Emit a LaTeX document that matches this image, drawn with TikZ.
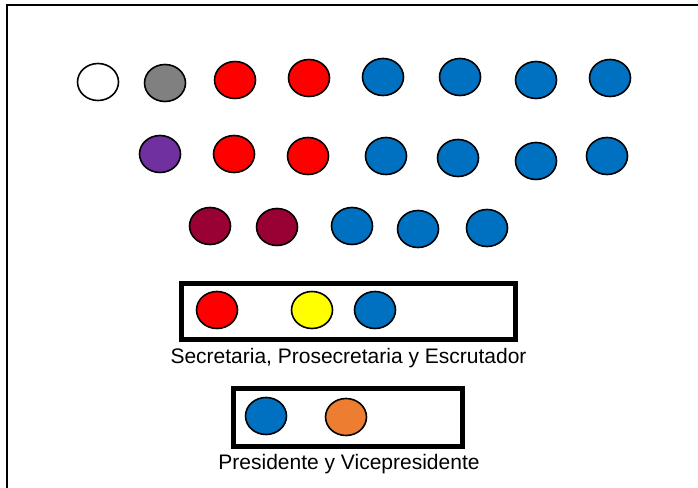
\documentclass[tikz,border=0pt]{standalone}
\usepackage{fontspec}
\setmainfont{Liberation Sans}
\usepackage{tikz}
\usetikzlibrary{
    shapes,
    shapes.geometric,
    positioning
}
\definecolor{seatblue}{HTML}{0070C0}
\definecolor{seatred}{HTML}{FF0000}
\definecolor{seatgray}{HTML}{808080}
\definecolor{seatpurple}{HTML}{7030A0}
\definecolor{seatmaroon}{HTML}{990033}
\definecolor{seatorange}{HTML}{ED7D31}
\definecolor{seatyellow}{HTML}{FFFF00}
\tikzset{
  seat/.style = {
      draw=black,
      ellipse,
      line width=1.6pt,
      minimum width=41pt,
      minimum height=37pt,
      inner sep=0pt
  },
  blue seat/.style = {
      seat,
      fill=seatblue
  },
  red seat/.style = {
      seat,
      fill=seatred
  },
  panel/.style = {
      draw=black,
      line width=5pt,
      inner sep=0pt
  },
  caption/.style = {
      font=\fontsize{21}{25}\selectfont,
      anchor=base,
      inner sep=0pt
  }
}

\begin{document}
\begin{tikzpicture}[x=1pt, y=-1pt]
    \useasboundingbox (0,0) rectangle (698,487);
    % Frame
    \draw[line width=2pt] (7,495) -- (7,5) -- (705,5);
    % First row
    \node[seat, fill=white] (a1) at (98,82) {};
    \node[seat, fill=seatgray] (a2) at (165,83) {};
    \node[red seat] (a3) at (235,80) {};
    \node[red seat] (a4) at (309,78) {};
    \node[blue seat] (a5) at (383,77) {};
    \node[blue seat] (a6) at (460,77) {};
    \node[blue seat] (a7) at (536,80) {};
    \node[blue seat] (a8) at (610,78) {};
    % Second row
    \node[seat, fill=seatpurple] (b1) at (160,154) {};
    \node[red seat] (b2) at (234,154) {};
    \node[red seat] (b3) at (308,156) {};
    \node[blue seat] (b4) at (386,156) {};
    \node[blue seat] (b5) at (458,158) {};
    \node[blue seat] (b6) at (536,161) {};
    \node[blue seat] (b7) at (607,156) {};
    % Third row
    \node[seat, fill=seatmaroon] (c1) at (210,226) {};
    \node[seat, fill=seatmaroon] (c2) at (277,227) {};
    \node[blue seat] (c3) at (352,226) {};
    \node[blue seat] (c4) at (418,229) {};
    \node[blue seat] (c5) at (487,228) {};
    % Secretaria
    \node[panel, minimum width=334pt, minimum height=56pt] (sec) at (348.5,311.5) {};
    \node[red seat] (s1) at (217,310) {};
    \node[seat, fill=seatyellow] (s2) at (312,310) {};
    \node[blue seat] (s3) at (375,310) {};
    \node[caption] (seclabel) at (348.5,363) {Secretaria, Prosecretaria y Escrutador};
    % Presidencia
    \node[panel, minimum width=229pt, minimum height=58pt] (pres) at (348,417.5) {};
    \node[blue seat] (p1) at (266,416) {};
    \node[seat, fill=seatorange] (p2) at (346,417) {};
    \node[caption] (preslabel) at (349,469) {Presidente y Vicepresidente};
\end{tikzpicture}
\end{document}
